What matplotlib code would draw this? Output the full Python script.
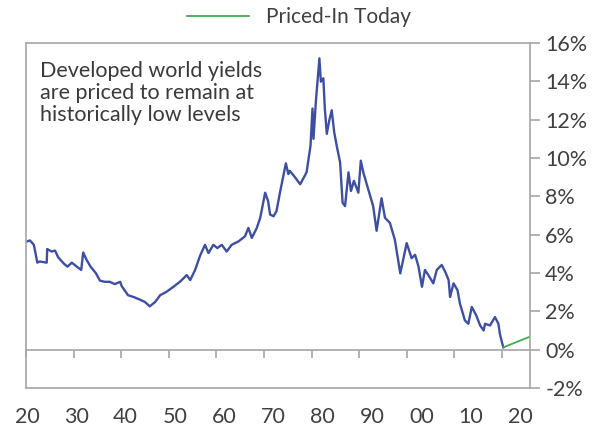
import numpy as np
import matplotlib
matplotlib.use("Agg")
import matplotlib.pyplot as plt

# Developed world government bond yield (%), by year
hist_years = [1920.06, 1920.6, 1921.4, 1922.1, 1922.6, 1924.0, 1924.1, 1925.0, 1925.7, 1926.3,
              1927.4, 1928.2, 1929.1, 1930.1, 1931.0, 1931.4, 1932.1, 1932.9, 1934.0, 1934.8,
              1935.8, 1936.8, 1937.8, 1938.9, 1939.2, 1940.5, 1941.6, 1942.9, 1943.9, 1944.9,
              1946.0, 1947.0, 1948.3, 1949.7, 1951.0, 1952.4, 1953.1, 1954.1, 1955.1, 1956.1,
              1956.8, 1957.8, 1958.6, 1959.5, 1960.5, 1961.5, 1962.9, 1964.2, 1964.9, 1965.6,
              1966.6, 1967.3, 1968.3, 1968.9, 1969.3, 1970.0, 1970.6, 1971.3, 1972.5, 1973.0,
              1973.3, 1974.4, 1975.4, 1976.7, 1977.5, 1977.9, 1978.1, 1978.6, 1979.3, 1979.6,
              1980.1, 1980.4, 1980.8, 1981.3, 1981.8, 1982.3, 1982.8, 1983.5, 1984.0, 1984.5,
              1985.2, 1985.7, 1986.3, 1987.2, 1987.7, 1988.2, 1989.2, 1990.2, 1990.9, 1991.9,
              1992.6, 1993.6, 1994.6, 1995.7, 1997.0, 1998.0, 1998.7, 1999.4, 2000.1, 2000.7,
              2001.4, 2002.4, 2003.1, 2004.1, 2004.8, 2005.5, 2005.8, 2006.5, 2007.3, 2007.8,
              2008.8, 2009.5, 2010.2, 2011.1, 2011.9, 2012.6, 2012.9, 2013.9, 2014.9, 2015.6,
              2015.9, 2016.4, 2016.6]
hist_yield = [5.65, 5.70, 5.47, 4.54, 4.60, 4.54, 5.25, 5.12, 5.17, 4.83,
              4.51, 4.33, 4.54, 4.33, 4.16, 5.07, 4.68, 4.33, 3.98, 3.60,
              3.54, 3.54, 3.42, 3.54, 3.32, 2.84, 2.75, 2.61, 2.49, 2.26,
              2.49, 2.84, 3.02, 3.28, 3.54, 3.89, 3.63, 4.16, 4.90, 5.47,
              5.04, 5.47, 5.30, 5.47, 5.12, 5.47, 5.65, 5.91, 6.35, 5.83,
              6.35, 6.88, 8.19, 7.75, 7.05, 6.96, 7.23, 8.19, 9.72, 9.16,
              9.33, 8.98, 8.63, 9.25, 10.65, 12.58, 11.00, 13.00, 15.20, 13.98,
              14.16, 12.58, 11.26, 11.96, 12.49, 11.35, 10.65, 9.77, 7.67, 7.49,
              9.25, 8.28, 8.81, 8.19, 9.86, 9.25, 8.37, 7.49, 6.20, 7.90,
              6.88, 6.61, 5.74, 3.98, 5.56, 4.77, 4.95, 4.33, 3.28, 4.16,
              3.89, 3.46, 4.16, 4.42, 4.07, 3.63, 2.75, 3.46, 3.11, 2.40,
              1.53, 1.35, 2.23, 1.79, 1.26, 1.00, 1.35, 1.26, 1.70, 1.35,
              0.82, 0.30, 0.12]

# Market-implied path from today
fwd_years = [2016.6, 2019.3, 2022.0]
fwd_yield = [0.12, 0.40, 0.68]

label_years = [1920, 1930, 1940, 1950, 1960, 1970, 1980, 1990, 2000, 2010, 2020]
label_text = ["20", "30", "40", "50", "60", "70", "80", "90", "00", "10", "20"]
y_ticks = [-2, 0, 2, 4, 6, 8, 10, 12, 14, 16]

GRAY = "#a6a6a6"
TEXT = "#404040"
BLUE = "#3d4fa3"
GREEN = "#3dae4e"
FONT = "Lato"

plt.rcParams["font.family"] = [FONT, "DejaVu Sans"]

fig = plt.figure(figsize=(6.1, 4.3), dpi=100)
ax = fig.add_axes([0.0426, 0.0977, 0.8262, 0.8023])

ax.plot(hist_years, hist_yield, color=BLUE, lw=1.7, solid_joinstyle="round")
ax.plot(fwd_years, fwd_yield, color=GREEN, lw=1.3, label="Priced-In Today")

ax.set_xlim(1919.8, 2022.0)
ax.set_ylim(-2, 16)

# frame
for s in ["left", "right", "top", "bottom"]:
    ax.spines[s].set_color(GRAY)
    ax.spines[s].set_linewidth(1.2)
ax.spines["bottom"].set_position(("data", 0))

# tick marks along the zero line
tick_pos = 1919.8 + 9.655 * np.arange(11)
ax.set_xticks(tick_pos)
ax.set_xticklabels([])
ax.tick_params(axis="x", direction="out", length=6, width=1.2, color=GRAY)

# year labels under the frame
sec = ax.secondary_xaxis("bottom")
sec.set_xticks(label_years)
sec.set_xticklabels(label_text)
sec.tick_params(axis="x", length=0, pad=14, labelsize=15.5, labelcolor=TEXT)
sec.spines["bottom"].set_color(GRAY)
sec.spines["bottom"].set_linewidth(1.2)

# percentage axis on the right
ax.yaxis.tick_right()
ax.set_yticks(y_ticks)
ax.set_yticklabels([f"{v}%" for v in y_ticks])
ax.tick_params(axis="y", direction="out", length=7, width=1.2, color=GRAY,
               labelsize=15.5, labelcolor=TEXT, pad=4)

ax.text(0.027, 0.948, "Developed world yields\nare priced to remain at\nhistorically low levels",
        transform=ax.transAxes, ha="left", va="top", fontsize=15.5, color="#3a3a3a",
        linespacing=1.12)

fig.legend(loc="center", bbox_to_anchor=(0.49, 0.96), frameon=False, fontsize=15,
           handlelength=3.0, handletextpad=0.8, labelcolor=TEXT)

fig.savefig("out.png", dpi=100, facecolor="white")
